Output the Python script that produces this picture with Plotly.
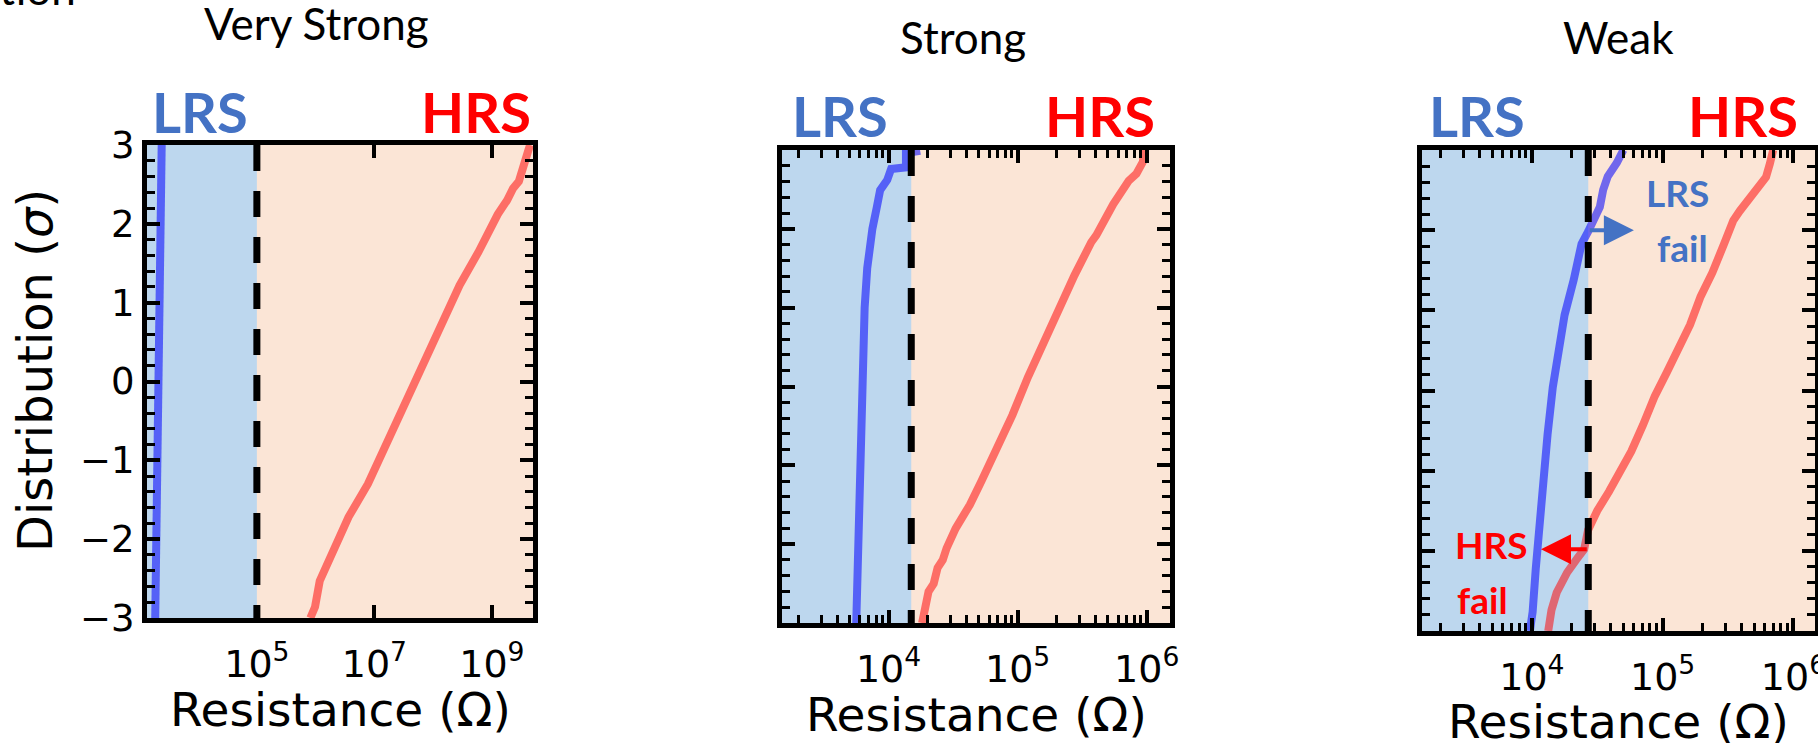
import math
import plotly.graph_objects as go

# ---------------------------------------------------------------- data
# Cumulative distributions: sigma (probit) vs log10 of resistance (Ohm)
panel_titles = ["Very Strong", "Strong", "Weak"]

vs_lrs_sigma = [-3.0, -1.5, 0.0, 1.5, 3.0]
vs_lrs_log10r = [3.27, 3.29, 3.32, 3.35, 3.38]
vs_hrs_sigma = [-3.0, -2.86, -2.53, -2.45, -2.02, -1.72, -1.30, -0.58, -0.16, 0.26,
                0.68, 1.22, 1.64, 1.88, 2.12, 2.30, 2.45, 2.54, 2.72, 2.93, 3.0]
vs_hrs_log10r = [5.91, 5.99, 6.07, 6.12, 6.37, 6.56, 6.89, 7.34, 7.60, 7.86,
                 8.12, 8.45, 8.77, 8.93, 9.10, 9.26, 9.36, 9.46, 9.52, 9.62, 9.65]

s_lrs_sigma = [-3.0, -2.0, -1.0, 0.0, 1.0, 1.5, 1.8, 2.0, 2.28, 2.49, 2.62, 2.76,
               2.78, 2.96, 2.99]
s_lrs_log10r = [3.75, 3.765, 3.78, 3.795, 3.815, 3.835, 3.85, 3.875, 3.91, 3.935,
                3.99, 4.02, 4.135, 4.135, 4.245]
s_hrs_sigma = [-3.0, -2.85, -2.6, -2.5, -2.3, -2.2, -2.05, -1.80, -1.50, -1.20,
               -0.78, -0.36, 0.12, 0.57, 0.99, 1.41, 1.83, 1.92, 2.31, 2.61, 2.70,
               2.85, 3.0]
s_hrs_log10r = [4.26, 4.275, 4.31, 4.35, 4.38, 4.42, 4.45, 4.52, 4.63, 4.72,
                4.84, 4.96, 5.08, 5.20, 5.32, 5.44, 5.57, 5.61, 5.74, 5.86, 5.92,
                5.97, 5.98]

w_lrs_sigma = [-3.0, -2.76, -2.22, -1.63, -1.03, -0.55, 0.04, 0.58, 0.94, 1.38,
               1.59, 1.83, 1.98, 2.13, 2.29, 2.50, 2.67, 2.84, 2.94, 3.0]
w_lrs_log10r = [3.985, 4.006, 4.03, 4.06, 4.09, 4.12, 4.16, 4.21, 4.25, 4.32,
                4.345, 4.38, 4.43, 4.47, 4.52, 4.545, 4.58, 4.65, 4.69, 4.70]
w_hrs_sigma = [-3.0, -2.74, -2.52, -2.27, -2.11, -1.98, -1.74, -1.50, -1.26, -1.02,
               -0.76, -0.43, -0.07, 0.22, 0.52, 0.82, 1.17, 1.47, 1.83, 2.12,
               2.24, 2.36, 2.48, 2.57, 2.66, 2.83, 2.95, 3.0]
w_hrs_log10r = [4.125, 4.15, 4.19, 4.27, 4.34, 4.40, 4.43, 4.50, 4.59, 4.68,
                4.76, 4.85, 4.94, 5.03, 5.12, 5.21, 5.29, 5.38, 5.47, 5.54,
                5.59, 5.65, 5.71, 5.76, 5.79, 5.82, 5.84, 5.845]

# read-verify threshold resistance (Ohm) separating LRS and HRS
thresholds = [1.0e5, 1.5e4, 2.7e4]

# axis extents (log10 Ohm) and tick values
x_ranges = [[3.13, 9.70], [3.175, 6.18], [3.16, 6.165]]
x_major_ticks = [[1e5, 1e7, 1e9], [1e4, 1e5, 1e6], [1e4, 1e5, 1e6]]
y_ticks = [-3, -2, -1, 0, 1, 2, 3]

lrs_sigma = [vs_lrs_sigma, s_lrs_sigma, w_lrs_sigma]
lrs_log10r = [vs_lrs_log10r, s_lrs_log10r, w_lrs_log10r]
hrs_sigma = [vs_hrs_sigma, s_hrs_sigma, w_hrs_sigma]
hrs_log10r = [vs_hrs_log10r, s_hrs_log10r, w_hrs_log10r]

# ---------------------------------------------------------------- styling
W, H = 1818, 743
BLUE_BG = "#BDD7EE"
PEACH_BG = "#FBE5D6"
LRS_LINE = "rgba(0,0,255,0.55)"
HRS_LINE = "rgba(255,0,0,0.52)"
LRS_TEXT = "#4472C4"
HRS_TEXT = "#FF0000"
TXT_FONT = "Lato"
AX_FONT = "DejaVu Sans"

# plot boxes in pixels: left, right, top, bottom
boxes = [(147, 533, 145, 618), (782, 1170, 150, 623), (1422, 1815, 150, 631)]


def fx(p):
    return p / W


def fy(p):
    return 1 - p / H


fig = go.Figure()
annotations = []

for i in range(3):
    n = "" if i == 0 else str(i + 1)
    xa, ya = "x" + n, "y" + n
    left, right, top, bottom = boxes[i]
    thr = thresholds[i]
    x_lo = 10 ** (x_ranges[i][0] - 0.1)

    # LRS window shading (left of the threshold)
    fig.add_trace(go.Scatter(x=[x_lo, thr, thr, x_lo, x_lo], y=[-3, -3, 3, 3, -3],
                             mode="lines", fill="toself", fillcolor=BLUE_BG,
                             line=dict(width=0, color=BLUE_BG), hoverinfo="skip",
                             xaxis=xa, yaxis=ya, showlegend=False))

    fig.add_trace(go.Scatter(x=[10 ** v for v in lrs_log10r[i]], y=lrs_sigma[i],
                             mode="lines", line=dict(color=LRS_LINE, width=8),
                             xaxis=xa, yaxis=ya, showlegend=False))
    fig.add_trace(go.Scatter(x=[10 ** v for v in hrs_log10r[i]], y=hrs_sigma[i],
                             mode="lines", line=dict(color=HRS_LINE, width=8),
                             xaxis=xa, yaxis=ya, showlegend=False))
    fig.add_trace(go.Scatter(x=[thr, thr], y=[3, -3], mode="lines",
                             line=dict(color="black", width=7, dash="26px,20px"),
                             xaxis=xa, yaxis=ya, showlegend=False))

    minor_vals = []
    if i > 0:
        for e in range(3, 7):
            for k in range(2, 10):
                minor_vals.append(k * 10 ** e)

    xaxis = dict(
        type="log", range=x_ranges[i], domain=[fx(left), fx(right)], anchor=ya,
        showgrid=False, zeroline=False, showline=True, linecolor="black",
        linewidth=5, mirror="ticks", ticks="inside", ticklen=13, tickwidth=4,
        tickcolor="black", tickmode="array", tickvals=x_major_ticks[i],
        ticktext=["10<sup>%d</sup>" % round(math.log10(v)) for v in x_major_ticks[i]],
        tickfont=dict(family=AX_FONT, size=38, color="black"),
        ticklabelstandoff=8, ticklabeloverflow="allow", automargin=False,
    )
    if minor_vals:
        xaxis["minor"] = dict(tickmode="array", tickvals=minor_vals, ticks="inside",
                              ticklen=8, tickwidth=2.5, tickcolor="black",
                              showgrid=False)
    yaxis = dict(
        range=[-3, 3], domain=[fy(bottom), fy(top)], anchor=xa,
        showgrid=False, zeroline=False, showline=True, linecolor="black",
        linewidth=5, mirror="ticks", ticks="inside", ticklen=13, tickwidth=4,
        tickcolor="black", tickmode="array", tickvals=y_ticks,
        showticklabels=(i == 0),
        tickfont=dict(family=AX_FONT, size=37, color="black"),
        ticklabelstandoff=0, automargin=False,
        minor=dict(dtick=0.2, tick0=0, ticks="inside", ticklen=8, tickwidth=2.5,
                   tickcolor="black", showgrid=False),
    )
    fig.update_layout({"xaxis" + n: xaxis, "yaxis" + n: yaxis})

    # panel title
    title_y = 23 if i == 0 else 37
    title_x = [316, 963, 1618][i]
    annotations.append(dict(text=panel_titles[i], xref="paper", yref="paper",
                            x=fx(title_x), y=fy(title_y), xanchor="center",
                            yanchor="middle", showarrow=False,
                            font=dict(family=TXT_FONT, size=44, color="black")))
    # state labels above the box
    lab_y = 112 if i == 0 else 115
    lrs_left = [150, 790, 1427][i]
    hrs_right = [533, 1157, 1800][i]
    annotations.append(dict(text="<b>LRS</b>", xref="paper", yref="paper",
                            x=fx(lrs_left), y=fy(lab_y), xanchor="left",
                            yanchor="middle", showarrow=False,
                            font=dict(family=TXT_FONT, size=56, color=LRS_TEXT)))
    annotations.append(dict(text="<b>HRS</b>", xref="paper", yref="paper",
                            x=fx(hrs_right), y=fy(lab_y), xanchor="right",
                            yanchor="middle", showarrow=False,
                            font=dict(family=TXT_FONT, size=56, color=HRS_TEXT)))
    # x axis title
    xt_y = [709, 714, 721][i]
    annotations.append(dict(text="Resistance (Ω)", xref="paper", yref="paper",
                            x=fx((left + right) / 2), y=fy(xt_y), xanchor="center",
                            yanchor="middle", showarrow=False,
                            font=dict(family=AX_FONT, size=47, color="black")))

# y axis title
annotations.append(dict(text="Distribution (<i>σ</i>)", xref="paper", yref="paper",
                        x=fx(35), y=fy(371), xanchor="center", yanchor="middle",
                        textangle=-90, showarrow=False,
                        font=dict(family=AX_FONT, size=48, color="black")))
# caption running off the top edge
annotations.append(dict(text="Distribution", xref="paper", yref="paper",
                        x=fx(78), y=fy(-12), xanchor="right", yanchor="middle",
                        showarrow=False,
                        font=dict(family=TXT_FONT, size=44, color="black")))

# failure markers in the weak panel
w_thr_log = math.log10(thresholds[2])
annotations += [
    dict(text="", xref="x3", yref="y3", axref="x3", ayref="y3",
         x=4.78, y=2.0, ax=w_thr_log, ay=2.0, showarrow=True, arrowhead=2,
         arrowsize=1.5, arrowwidth=4, arrowcolor=LRS_TEXT),
    dict(text="", xref="x3", yref="y3", axref="x3", ayref="y3",
         x=4.07, y=-1.98, ax=w_thr_log, ay=-1.98, showarrow=True, arrowhead=2,
         arrowsize=1.5, arrowwidth=4, arrowcolor=HRS_TEXT),
    dict(text="<b>LRS</b>", xref="x3", yref="y3", x=5.11, y=2.47, showarrow=False,
         font=dict(family=TXT_FONT, size=37, color=LRS_TEXT)),
    dict(text="<b>fail</b>", xref="x3", yref="y3", x=5.15, y=1.79, showarrow=False,
         font=dict(family=TXT_FONT, size=37, color=LRS_TEXT)),
    dict(text="<b>HRS</b>", xref="x3", yref="y3", x=3.69, y=-1.92, showarrow=False,
         font=dict(family=TXT_FONT, size=37, color=HRS_TEXT)),
    dict(text="<b>fail</b>", xref="x3", yref="y3", x=3.62, y=-2.61, showarrow=False,
         font=dict(family=TXT_FONT, size=37, color=HRS_TEXT)),
]

fig.update_layout(
    width=W, height=H, margin=dict(l=0, r=0, t=0, b=0, pad=0),
    paper_bgcolor="white", plot_bgcolor=PEACH_BG, template="none",
    showlegend=False, annotations=annotations,
)

fig.write_html("out.html")
